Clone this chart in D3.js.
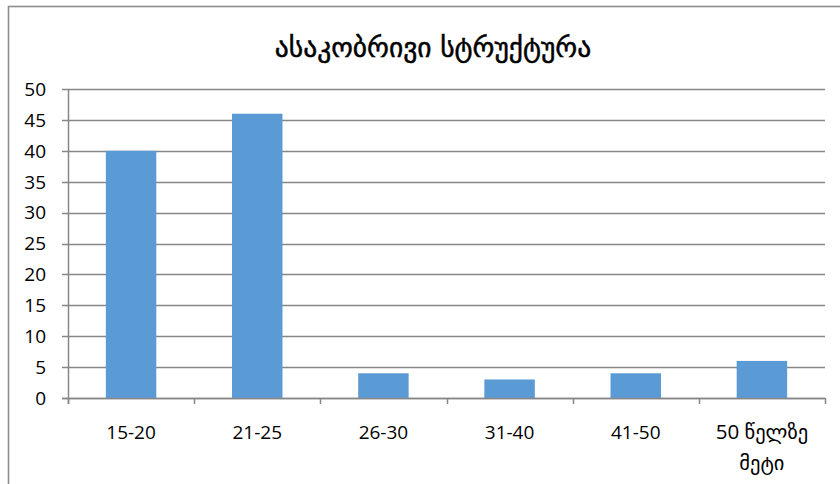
<!DOCTYPE html>
<html>
<head>
<meta charset="utf-8">
<script src="https://cdn.jsdelivr.net/npm/d3@7"></script>
<style>
  html, body { margin: 0; padding: 0; background: #fff; }
  svg { display: block; }
</style>
</head>
<body>
<svg id="chart" width="840" height="484"></svg>
<script>
// Age structure: counts per age group
const title = "ასაკობრივი სტრუქტურა";
const categories = ["15-20", "21-25", "26-30", "31-40", "41-50", "50 წელზე მეტი"];
const categoryLines = [["15-20"], ["21-25"], ["26-30"], ["31-40"], ["41-50"], ["50 წელზე", "მეტი"]];
const values = [40, 46, 4, 3, 4, 6];
const yTicks = [0, 5, 10, 15, 20, 25, 30, 35, 40, 45, 50];

const svg = d3.select("#chart");
const W = 840, H = 484;
const plot = { left: 68, right: 825, top: 89, bottom: 398 };

const geoFont = "'DejaVu Sans', sans-serif";
const numFont = "'Open Sans', 'DejaVu Sans', sans-serif";
const gridColor = "#878787";

// outer chart frame (runs past the right and bottom edges)
svg.append("rect")
  .attr("x", 8.5).attr("y", 6.5)
  .attr("width", W + 20).attr("height", H + 20)
  .attr("fill", "#fff")
  .attr("stroke", "#8c8c8c")
  .attr("stroke-width", 1.6);

const x = d3.scaleBand()
  .domain(categories)
  .range([plot.left, plot.right])
  .paddingInner(0.6)
  .paddingOuter(0.3);

const y = d3.scaleLinear()
  .domain([0, 50])
  .range([plot.bottom, plot.top]);

// horizontal gridlines
svg.append("g")
  .selectAll("line")
  .data(yTicks)
  .join("line")
  .attr("x1", plot.left - 6)
  .attr("x2", plot.right)
  .attr("y1", d => Math.round(y(d)) + 0.5)
  .attr("y2", d => Math.round(y(d)) + 0.5)
  .attr("stroke", gridColor)
  .attr("stroke-width", 1.5);

// y axis line
svg.append("line")
  .attr("x1", plot.left + 0.5).attr("x2", plot.left + 0.5)
  .attr("y1", y(50)).attr("y2", y(0) + 6)
  .attr("stroke", gridColor).attr("stroke-width", 1.5);

// y tick labels
svg.append("g")
  .selectAll("text")
  .data(yTicks)
  .join("text")
  .attr("x", 46)
  .attr("y", d => y(d))
  .attr("dy", "0.36em")
  .attr("text-anchor", "end")
  .attr("font-family", numFont)
  .attr("font-size", 19)
  .attr("fill", "#000")
  .text(d => d);

// category boundary ticks on the x axis
const boundaries = d3.range(categories.length + 1).map(i => plot.left + i * (plot.right - plot.left) / categories.length);
svg.append("g")
  .selectAll("line")
  .data(boundaries)
  .join("line")
  .attr("x1", d => Math.round(d) + 0.5)
  .attr("x2", d => Math.round(d) + 0.5)
  .attr("y1", y(0))
  .attr("y2", y(0) + 6)
  .attr("stroke", gridColor).attr("stroke-width", 1.5);

// bars
svg.append("g")
  .selectAll("rect")
  .data(values)
  .join("rect")
  .attr("x", (d, i) => x(categories[i]))
  .attr("width", x.bandwidth())
  .attr("y", d => y(d))
  .attr("height", d => y(0) - y(d))
  .attr("fill", "#5b9bd5");

// x axis line
svg.append("line")
  .attr("x1", plot.left - 6).attr("x2", plot.right)
  .attr("y1", Math.round(y(0)) + 0.5).attr("y2", Math.round(y(0)) + 0.5)
  .attr("stroke", gridColor).attr("stroke-width", 1.5);

// category labels
const labels = svg.append("g")
  .selectAll("text")
  .data(categoryLines)
  .join("text")
  .attr("x", (d, i) => x(categories[i]) + x.bandwidth() / 2)
  .attr("y", 439)
  .attr("text-anchor", "middle")
  .attr("font-family", numFont)
  .attr("font-size", 19)
  .attr("fill", "#000");
labels.selectAll("tspan")
  .data(d => d)
  .join("tspan")
  .attr("x", function () { return this.parentNode.getAttribute("x"); })
  .attr("dy", (d, i) => i === 0 ? 0 : 31)
  .attr("font-size", d => /[\u10A0-\u10FF]/.test(d) ? 20.5 : 19)
  .text(d => d);

// title
svg.append("text")
  .attr("x", 433)
  .attr("y", 57)
  .attr("text-anchor", "middle")
  .attr("font-family", geoFont)
  .attr("font-size", 27.5)
  .attr("fill", "#000")
  .attr("stroke", "#000")
  .attr("stroke-width", 0.5)
  .text(title);
</script>
</body>
</html>
